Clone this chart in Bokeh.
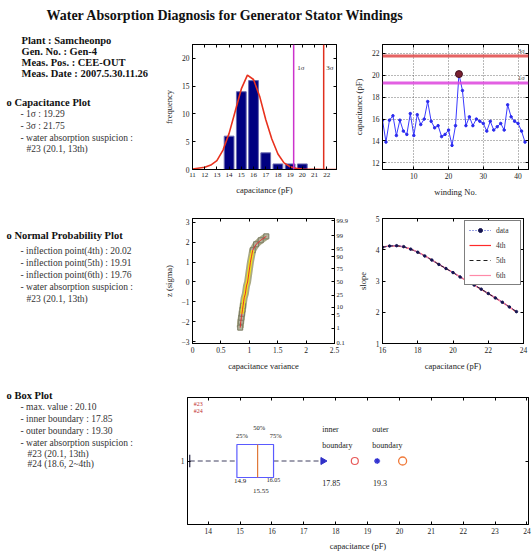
import math
from bokeh.plotting import figure
from bokeh.layouts import column, row
from bokeh.models import Range1d, Label, LinearAxis, FixedTicker, Span, Legend, LegendItem
from bokeh.embed import file_html
from bokeh.resources import INLINE

FONT = "Liberation Serif"

# ---------------- data ----------------
title_text = "Water Absorption Diagnosis for Generator Stator Windings"
info_lines = ["Plant : Samcheonpo", "Gen. No. : Gen-4", "Meas. Pos. : CEE-OUT", "Meas. Date : 2007.5.30.11.26"]

# histogram of capacitance
hist_bins = [14, 15, 16, 17, 18, 19, 20]
hist_counts = [6, 14, 16, 3, 1, 1, 1]
fit_x = [11, 12, 12.5, 13, 13.5, 14, 14.5, 15, 15.5, 16, 16.5, 17, 17.5, 18, 18.5, 19, 19.5, 20, 21, 22, 22.8]
fit_y = [0.1, 0.4, 0.8, 1.6, 3.5, 6.5, 10.5, 14.5, 17.0, 16.2, 13.2, 9.0, 5.5, 2.8, 1.2, 0.5, 0.2, 0.1, 0.05, 0.0, 0.0]
sigma1 = 19.29
sigma3 = 21.75

# capacitance per winding
winding_no = list(range(1, 43))
winding_cap = [15.9, 13.9, 15.9, 16.3, 14.5, 15.9, 14.9, 14.6, 16.5, 14.5,
               16.4, 15.5, 16.0, 17.6, 15.8, 15.2, 15.4, 14.4, 14.6, 15.0,
               13.6, 15.4, 20.1, 18.6, 15.4, 16.2, 15.4, 16.0, 15.8, 15.6,
               14.9, 15.8, 15.0, 15.3, 15.6, 15.0, 17.3, 16.2, 15.8, 15.6,
               14.9, 13.9]
max_winding = [23]
max_cap = [20.1]

# normal probability plot
npp_var = [0.84, 0.85, 0.86, 0.87, 0.88, 0.89, 0.90, 0.91, 0.93, 0.94, 0.95,
           0.97, 0.98, 0.99, 1.00, 1.01, 1.02, 1.04, 1.06, 1.12, 1.20, 1.30]
npp_z = [-2.3, -2.0, -1.8, -1.6, -1.4, -1.2, -1.0, -0.8, -0.6, -0.4, -0.2,
         0.0, 0.2, 0.4, 0.6, 0.8, 1.0, 1.3, 1.6, 1.9, 2.1, 2.3]
prob_z = [-3.09, -2.33, -1.645, -1.28, -0.674, 0.0, 0.674, 1.28, 1.645, 2.33, 3.09]
prob_labels = ["0.1", "1", "5", "10", "25", "50", "75", "90", "95", "99", "99.9"]

# inflection (slope) curve
inf_x = [16.0, 16.4, 16.8, 17.2, 17.6, 18.0, 18.4, 18.8, 19.2, 19.6,
         20.0, 20.4, 20.8, 21.2, 21.6, 22.0, 22.4, 22.8, 23.2, 23.6]
inf_data = [4.08, 4.12, 4.13, 4.10, 4.02, 3.92, 3.80, 3.67, 3.53, 3.40,
            3.27, 3.13, 3.00, 2.87, 2.74, 2.60, 2.46, 2.32, 2.17, 2.02]
inf_fit4 = [4.09, 4.12, 4.12, 4.09, 4.02, 3.93, 3.81, 3.67, 3.53, 3.40,
            3.27, 3.13, 3.00, 2.87, 2.73, 2.60, 2.46, 2.32, 2.17, 2.01]
inf_fit5 = [4.08, 4.12, 4.13, 4.10, 4.02, 3.92, 3.80, 3.67, 3.53, 3.40,
            3.27, 3.13, 3.00, 2.87, 2.74, 2.60, 2.46, 2.32, 2.17, 2.02]
inf_fit6 = [4.08, 4.12, 4.13, 4.10, 4.03, 3.92, 3.80, 3.67, 3.54, 3.40,
            3.27, 3.14, 3.00, 2.87, 2.74, 2.60, 2.46, 2.32, 2.17, 2.02]

# box plot statistics
box_q1 = 14.9
box_med = 15.55
box_q3 = 16.05
whisk_lo = 13.42
whisk_hi = 17.6
inner_boundary = 17.85
outer_boundary = 19.30
susp24 = 18.6
susp23 = 20.1


# ---------------- helpers ----------------
def base_fig(w, h, xr, yr, bl, br, bt, bb):
    p = figure(width=w, height=h, x_range=Range1d(*xr), y_range=Range1d(*yr),
               output_backend="svg", toolbar_location=None,
               min_border_left=bl, min_border_right=br,
               min_border_top=bt, min_border_bottom=bb)
    p.outline_line_color = "black"
    p.outline_line_width = 1
    p.xgrid.visible = False
    p.ygrid.visible = False
    p.background_fill_color = "white"
    p.border_fill_color = "white"
    return p


def style_axis(ax, ticks, fs="7.5px", overrides=None):
    ax.ticker = FixedTicker(ticks=ticks)
    ax.major_tick_in = 3
    ax.major_tick_out = 0
    ax.minor_tick_line_color = None
    ax.major_label_standoff = 3
    ax.axis_line_color = "black"
    ax.major_label_text_font = FONT
    ax.major_label_text_font_size = fs
    ax.major_label_text_color = "#222222"
    ax.axis_label_text_font = FONT
    ax.axis_label_text_font_size = "8.5px"
    ax.axis_label_text_font_style = "normal"
    ax.axis_label_text_color = "#222222"
    ax.axis_label_standoff = 5
    if overrides:
        ax.major_label_overrides = overrides


def blank_axis(p, ticks, side):
    ax = LinearAxis()
    style_axis(ax, ticks)
    ax.major_label_overrides = {t: "" for t in ticks}
    ax.major_label_standoff = 0
    ax.major_label_text_font_size = "1px"
    p.add_layout(ax, side)


def label(p, x, y, s, size="7px", color="#222222", align="left", bold=False):
    p.add_layout(Label(x=x, y=y, text=s, text_font=FONT, text_font_size=size,
                       text_color=color, text_align=align, text_baseline="middle",
                       text_font_style="bold" if bold else "normal"))


def text_fig(w, h, xr, yr):
    p = figure(width=w, height=h, x_range=Range1d(*xr), y_range=Range1d(*yr),
               output_backend="svg", toolbar_location=None, min_border=0,
               x_axis_type=None, y_axis_type=None)
    p.outline_line_color = None
    p.xgrid.visible = False
    p.ygrid.visible = False
    return p


HEAD = "10.5px"
SUB = "9.5px"

# ---------------- title ----------------
title = text_fig(532, 32, (0, 532), (32, 0))
label(title, 46, 15, title_text, size="14px", color="#111111", bold=True)

# ---------------- left text column ----------------
left = text_fig(160, 522, (0, 160), (554, 32))
for i, s in enumerate(info_lines):
    label(left, 21, 40 + 11 * i, s, size=HEAD, color="#111111", bold=True)

label(left, 6, 102, "o Capacitance Plot", size=HEAD, color="#111111", bold=True)
cap_lines = ["- 1σ : 19.29", "- 3σ : 21.75", "- water absorption suspicion :"]
for i, s in enumerate(cap_lines):
    label(left, 20, 113 + 12 * i, s, size=SUB, color="#333333")
label(left, 26, 148, "#23 (20.1, 13th)", size=SUB, color="#333333")

label(left, 6, 235, "o Normal Probability Plot", size=HEAD, color="#111111", bold=True)
npp_lines = ["- inflection point(4th) : 20.02", "- inflection point(5th) : 19.91",
             "- inflection point(6th) : 19.76", "- water absorption suspicion :"]
for i, s in enumerate(npp_lines):
    label(left, 20, 250 + 12 * i, s, size=SUB, color="#333333")
label(left, 26, 298, "#23 (20.1, 13th)", size=SUB, color="#333333")

label(left, 6, 395, "o Box Plot", size=HEAD, color="#111111", bold=True)
box_lines = ["- max. value : 20.10", "- inner boundary : 17.85",
             "- outer boundary : 19.30", "- water absorption suspicion :"]
for i, s in enumerate(box_lines):
    label(left, 20, 406 + 12 * i, s, size=SUB, color="#333333")
label(left, 27, 453, "#23 (20.1, 13th)", size=SUB, color="#333333")
label(left, 27, 463, "#24 (18.6, 2~4th)", size=SUB, color="#333333")

# ---------------- histogram ----------------
hist = base_fig(190, 172, (11, 22.8), (0, 22.5), 29, 14, 12, 35)
style_axis(hist.xaxis[0], list(range(11, 23)), fs="7px")
style_axis(hist.yaxis[0], [0, 5, 10, 15, 20])
hist.xaxis[0].axis_label = "capacitance (pF)"
hist.yaxis[0].axis_label = "frequency"
blank_axis(hist, list(range(11, 23)), "above")
blank_axis(hist, [0, 5, 10, 15, 20], "right")
hist.vbar(x=hist_bins, top=hist_counts, width=0.8, fill_color="#000080",
          line_color="#6a6ab0", line_width=1)
hist.line(fit_x, fit_y, line_color="#e8321e", line_width=1.6)
hist.add_layout(Span(location=sigma1, dimension="height", line_color="#cc33cc", line_width=1.5))
hist.add_layout(Span(location=sigma3, dimension="height", line_color="#e0301e", line_width=1.5))
label(hist, sigma1 + 0.3, 18.2, "1σ", size="7px", color="#333333")
label(hist, sigma3 + 0.2, 18.2, "3σ", size="7px", color="#333333")

# ---------------- capacitance per winding ----------------
cap = base_fig(182, 172, (1, 43), (11.4, 22.8), 32, 4, 12, 34)
style_axis(cap.xaxis[0], [10, 20, 30, 40])
style_axis(cap.yaxis[0], [12, 14, 16, 18, 20, 22])
cap.xaxis[0].axis_label = "winding No."
cap.yaxis[0].axis_label = "capacitance (pF)"
blank_axis(cap, [10, 20, 30, 40], "above")
blank_axis(cap, [12, 14, 16, 18, 20, 22], "right")
cap.xgrid.visible = True
cap.ygrid.visible = True
cap.xgrid[0].ticker = FixedTicker(ticks=[10, 20, 30, 40])
cap.ygrid[0].ticker = FixedTicker(ticks=[12, 14, 16, 18, 20, 22])
for g in (cap.xgrid[0], cap.ygrid[0]):
    g.grid_line_color = "#333333"
    g.grid_line_dash = "1 2"
    g.grid_line_alpha = 0.7
cap.add_layout(Span(location=sigma3, dimension="width", line_color="#e04848", line_width=3, line_alpha=0.85))
cap.add_layout(Span(location=sigma1, dimension="width", line_color="#dd44dd", line_width=3, line_alpha=0.85))
cap.line(winding_no, winding_cap, line_color="#3a3aff", line_width=1)
cap.scatter(winding_no, winding_cap, size=2.5, color="#2a2aee")
cap.scatter(max_winding, max_cap, size=7, fill_color="#7a2030", line_color="#401020")
label(cap, 40.0, 22.25, "3σ", size="6.5px", color="#333333")
label(cap, 40.0, 19.8, "1σ", size="6.5px", color="#333333")

# ---------------- normal probability plot ----------------
npp = base_fig(190, 178, (0, 2.5), (-3.1, 3.2), 29, 16, 14, 39)
style_axis(npp.xaxis[0], [0, 0.5, 1, 1.5, 2, 2.5])
style_axis(npp.yaxis[0], [-3, -2, -1, 0, 1, 2, 3])
npp.xaxis[0].axis_label = "capacitance variance"
npp.yaxis[0].axis_label = "z (sigma)"
blank_axis(npp, [0, 0.5, 1, 1.5, 2, 2.5], "above")
rax = LinearAxis()
style_axis(rax, prob_z, fs="6.5px", overrides={z: s for z, s in zip(prob_z, prob_labels)})
rax.major_label_standoff = 2
npp.add_layout(rax, "right")
npp.line(npp_var, npp_z, line_color="#a9a984", line_width=7)
npp.scatter(npp_var[:6] + npp_var[-4:], npp_z[:6] + npp_z[-4:], marker="square", size=5,
            fill_color="#b4b49c", line_color="#7a7a62")
npp.line(npp_var[3:-3], npp_z[3:-3], line_color="#f2e21a", line_width=3.5)
npp.line(npp_var, npp_z, line_color="#e03030", line_width=1)

# ---------------- inflection curve ----------------
inf = base_fig(182, 178, (16, 24), (1, 5), 32, 9, 14, 37)
style_axis(inf.xaxis[0], [16, 18, 20, 22, 24])
style_axis(inf.yaxis[0], [1, 2, 3, 4, 5])
inf.xaxis[0].axis_label = "capacitance (pF)"
inf.yaxis[0].axis_label = "slope"
blank_axis(inf, [16, 18, 20, 22, 24], "above")
blank_axis(inf, [1, 2, 3, 4, 5], "right")
r4 = inf.line(inf_x, inf_fit4, line_color="#ff2a2a", line_width=1.2)
r6 = inf.line(inf_x, inf_fit6, line_color="#ff8aa8", line_width=1.2)
r5 = inf.line(inf_x, inf_fit5, line_color="#202020", line_width=1, line_dash="4 3")
rd_line = inf.line(inf_x, inf_data, line_color="#3344cc", line_width=1, line_dash="1 2")
rd_dot = inf.scatter(inf_x, inf_data, size=2.5, color="#141450")
legend = Legend(items=[LegendItem(label="data", renderers=[rd_line, rd_dot]),
                       LegendItem(label="4th", renderers=[r4]),
                       LegendItem(label="5th", renderers=[r5]),
                       LegendItem(label="6th", renderers=[r6])],
                location="top_right")
legend.label_text_font = FONT
legend.label_text_font_size = "7.5px"
legend.label_text_color = "#333333"
legend.glyph_width = 22
legend.glyph_height = 10
legend.label_height = 10
legend.label_standoff = 5
legend.spacing = 5
legend.padding = 4
legend.margin = 2
legend.border_line_color = "black"
legend.background_fill_alpha = 1
inf.add_layout(legend)

# ---------------- box plot ----------------
box = base_fig(372, 172, (13.35, 24.05), (0.5, 1.5), 27, 4, 15, 30)
style_axis(box.xaxis[0], list(range(14, 25)))
style_axis(box.yaxis[0], [1])
box.xaxis[0].axis_label = "capacitance (pF)"
box.xaxis[0].axis_label_standoff = 4
blank_axis(box, list(range(14, 25)), "above")
blank_axis(box, [1], "right")
box.segment(x0=[whisk_lo, box_q3], y0=[1, 1], x1=[box_q1, whisk_hi], y1=[1, 1],
            line_color="#404060", line_width=1, line_dash="5 3")
box.segment(x0=[whisk_lo], y0=[0.95], x1=[whisk_lo], y1=[1.05], line_color="#202040", line_width=1.2)
box.quad(left=[box_q1], right=[box_q3], bottom=[0.87], top=[1.13],
         fill_color=None, line_color="#5a5aff", line_width=1.2)
box.segment(x0=[box_med], y0=[0.87], x1=[box_med], y1=[1.13], line_color="#e07838", line_width=1.2)
box.scatter([whisk_hi], [1], marker="triangle", angle=-math.pi / 2, size=7,
            fill_color="#3030c8", line_color="#3030c8")
box.scatter([susp24], [1], marker="circle", size=7, fill_color=None, line_color="#e85a5a", line_width=1.2)
box.scatter([outer_boundary], [1], marker="asterisk", size=6, line_color="#3030d0", line_width=1.3)
box.scatter([susp23], [1], marker="circle", size=8, fill_color=None, line_color="#f07a3a", line_width=1.3)
label(box, 15.06, 1.2, "25%", size="6.5px", align="center")
label(box, 15.6, 1.26, "50%", size="6.5px", align="center")
label(box, 16.12, 1.2, "75%", size="6.5px", align="center")
label(box, 15.0, 0.84, "14.9", size="7px", align="center")
label(box, 16.05, 0.85, "16.05", size="6px", align="center")
label(box, 15.65, 0.76, "15.55", size="7px", align="center")
label(box, 17.58, 1.245, "inner", size="8px")
label(box, 17.58, 1.125, "boundary", size="8px")
label(box, 17.58, 0.83, "%.2f" % inner_boundary, size="8px")
label(box, 19.15, 1.245, "outer", size="8px")
label(box, 19.15, 1.125, "boundary", size="8px")
label(box, 19.17, 0.83, "%.1f" % outer_boundary, size="8px")
label(box, 13.55, 1.45, "#23", size="6px", color="#c03030")
label(box, 13.55, 1.39, "#24", size="6px", color="#c03030")

# ---------------- layout ----------------
right = column(row(hist, cap), row(npp, inf), box)
page = column(title, row(left, right))

open("out.html", "w").write(file_html(page, INLINE))
